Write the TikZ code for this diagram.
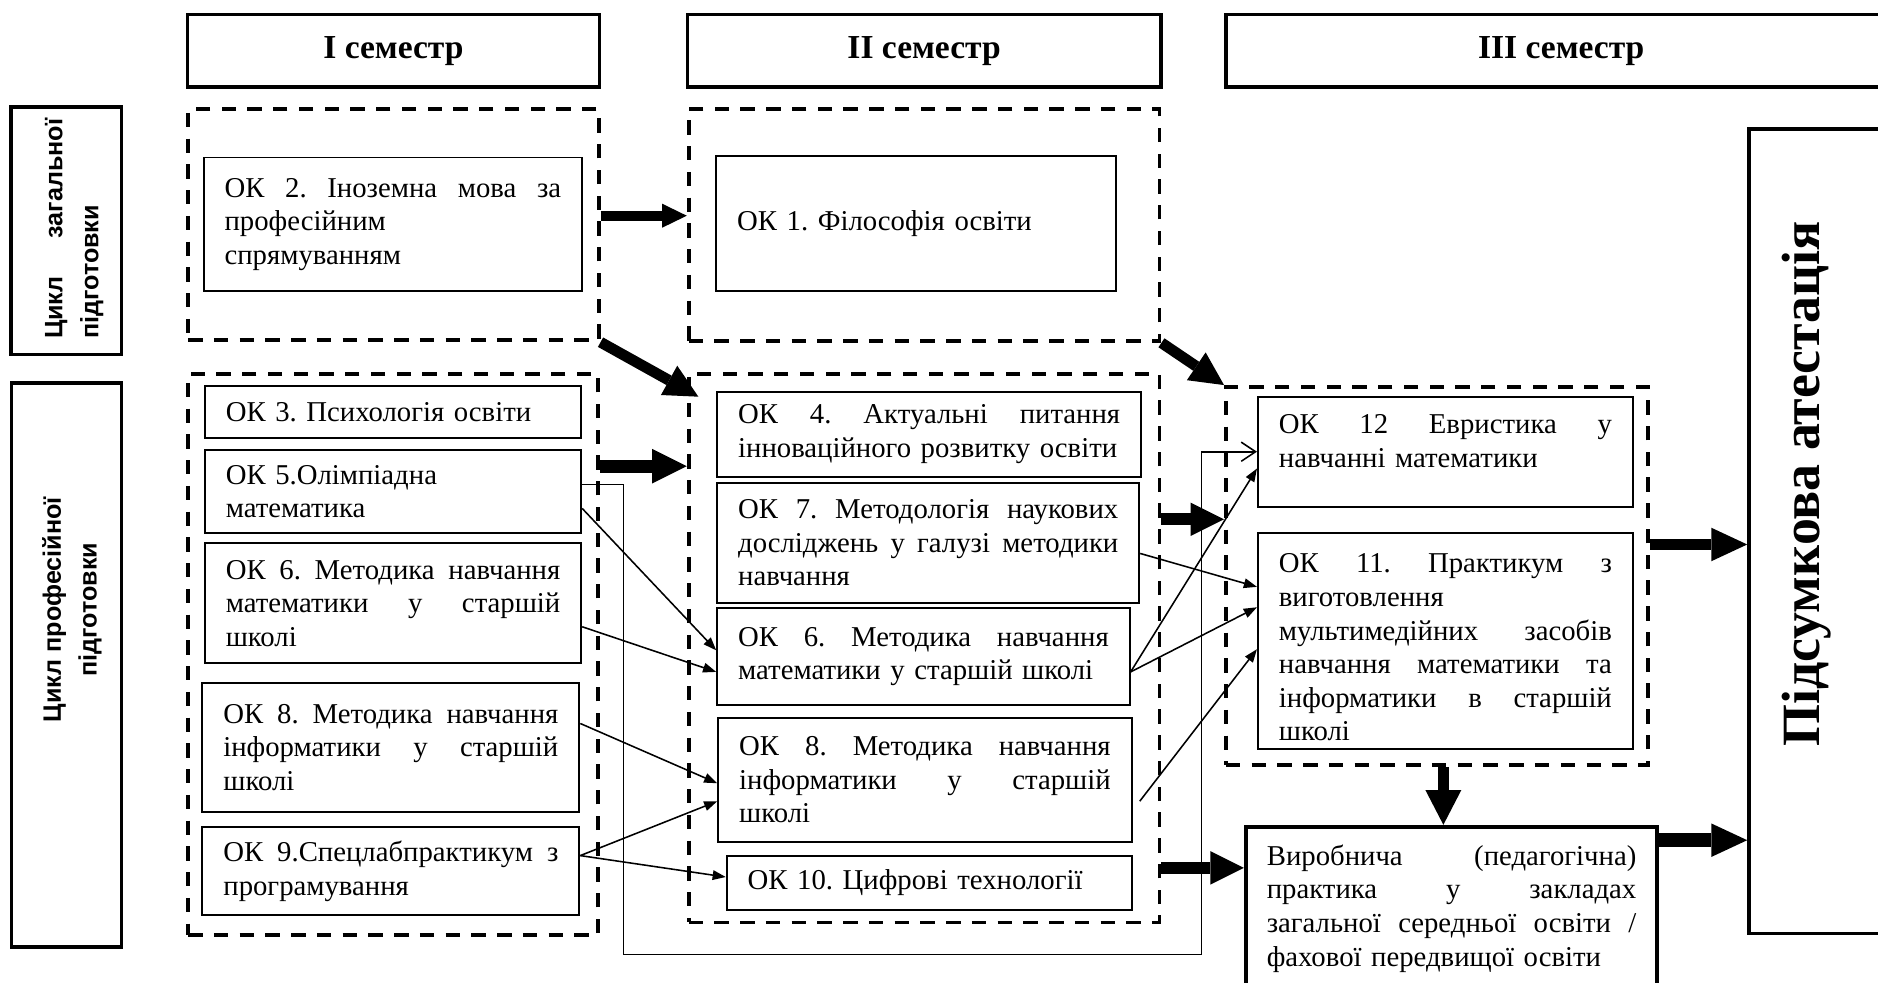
\documentclass[tikz,border=0pt]{standalone}
\usepackage{fontspec}
\setmainfont{Liberation Serif}
\newfontfamily\lsans{Liberation Sans}
\usetikzlibrary{arrows.meta}
\newcommand\jl[1]{\makebox[\linewidth][s]{\spaceskip=0pt\xspaceskip=0pt\relax #1}}
\begin{document}
\begin{tikzpicture}[x=1pt,y=-1pt,
  okbox/.style={draw, line width=1.6pt, inner xsep=17.5pt, inner ysep=0pt, align=left,
    font=\fontsize{24}{28}\selectfont\frenchspacing},
  headbox/.style={draw, line width=3pt, anchor=north west, font=\bfseries\fontsize{28}{30}\selectfont},
  dbox/.style={draw, line width=3.2pt, dash pattern=on 12pt off 9.5pt, anchor=north west, inner sep=0pt},
  framebox/.style={draw, line width=3pt, inner sep=0pt},
  sidetext/.style={rotate=90, inner sep=0pt, font=\lsans\bfseries\fontsize{21}{30}\selectfont},
  thinarr/.style={line width=1.3pt, -{Triangle[length=11pt,width=8pt]}},
  openarr/.style={line width=1.3pt, -{Straight Barb[length=12pt,width=16pt]}},
  bigarr/.style={line width=9pt, -{Triangle[length=28pt,width=28pt,line width=0pt]}},
]
\useasboundingbox (0,0) rectangle (1568,820);
\clip (0,0) rectangle (1568,820);

% semester headers
\node[headbox, minimum width=344pt, minimum height=60.4pt] (H1) at (155,10.6) {I семестр};
\node[headbox, minimum width=395.1pt, minimum height=60.4pt] (H2) at (572.5,10.6) {II семестр};
\node[headbox, minimum width=560pt, minimum height=60.4pt] (H3) at (1022,10.6) {III семестр};

% side labels
\node[framebox, minimum width=92.1pt, minimum height=206.5pt] (LG) at (55.35,192.75) {};
\node[sidetext, text width=184pt, align=left] (LGt) at (62,191) {\jl{Цикл загальної}\\підготовки};
\node[framebox, minimum width=91.9pt, minimum height=470.5pt] (LP) at (55.65,555.25) {};
\node[sidetext, align=center] (LPt) at (60,509) {Цикл професійної\\підготовки};

% final attestation
\node[framebox, minimum width=119.7pt, minimum height=671.6pt] (FIN) at (1520.15,443.5) {};
\node[rotate=90, inner sep=0pt, font=\bfseries\fontsize{45}{50}\selectfont] (FINt) at (1508,404) {Підсумкова атестація};

% dashed groups
\node[dbox, minimum width=342.7pt, minimum height=193pt] (dI1) at (155.5,89.5) {};
\node[dbox, minimum width=393.1pt, minimum height=193.5pt] (dII1) at (573.4,89.5) {};
\node[dbox, minimum width=342.5pt, minimum height=468.5pt] (dI2) at (155.5,310.5) {};
\node[dbox, minimum width=393.1pt, minimum height=458.1pt] (dII2) at (573.4,310.5) {};
\node[dbox, minimum width=352.5pt, minimum height=315.5pt] (dIII) at (1022,321.5) {};

% semester I
\node[okbox, text width=281pt, minimum height=111.5pt] (OK2) at (328,187.25)
  {\jl{ОК 2. Іноземна мова за}\\професійним\\спрямуванням};
\node[okbox, text width=279.3pt, minimum height=43.7pt] (OK3) at (328.15,344.15)
  {ОК 3. Психологія освіти};
\node[okbox, text width=279.3pt, minimum height=69.6pt] (OK5) at (328.15,410.5)
  {ОК 5.Олімпіадна\\математика};
\node[okbox, text width=279.3pt, minimum height=100.2pt] (OK6) at (328.15,503.8)
  {\jl{ОК 6. Методика навчання}\\\jl{математики у старшій}\\школі};
\node[okbox, text width=279.7pt, minimum height=107.1pt] (OK8) at (326.35,624.05)
  {\jl{ОК 8. Методика навчання}\\\jl{інформатики у старшій}\\школі};
\node[okbox, text width=279.7pt, minimum height=73.3pt] (OK9) at (326.35,727.35)
  {\jl{ОК 9.Спецлабпрактикум з}\\програмування};

% semester II
\node[okbox, text width=298.5pt, minimum height=113pt] (OK1) at (764.75,186.5)
  {ОК 1. Філософія освіти};
\node[okbox, text width=319pt, minimum height=71pt] (OK4) at (775.8,362.5)
  {\jl{ОК 4. Актуальні питання}\\інноваційного розвитку освіти};
\node[okbox, text width=317.4pt, minimum height=100.2pt] (OK7) at (775,453.1)
  {\jl{ОК 7. Методологія наукових}\\\jl{досліджень у галузі методики}\\навчання};
\node[okbox, text width=309.4pt, minimum height=81.2pt] (OK6b) at (771,548)
  {\jl{ОК 6. Методика навчання}\\математики у старшій школі};
\node[okbox, text width=310.1pt, minimum height=103.5pt] (OK8b) at (772.25,650.95)
  {\jl{ОК 8. Методика навчання}\\\jl{інформатики у старшій}\\школі};
\node[okbox, text width=303pt, minimum height=45.1pt] (OK10) at (775.8,737.25)
  {ОК 10. Цифрові технології};

% semester III
\node[okbox, text width=278pt, minimum height=91.9pt] (OK12) at (1206.8,377.15)
  {\jl{ОК 12 Евристика у}\\навчанні математики\rule[-18pt]{0pt}{18pt}};
\node[okbox, text width=278pt, minimum height=180.4pt] (OK11) at (1206.8,535.5)
  {\jl{\rule{0pt}{26pt}ОК 11. Практикум з}\\виготовлення\\\jl{мультимедійних засобів}\\\jl{навчання математики та}\\\jl{інформатики в старшій}\\школі};
\node[okbox, line width=3.3pt, text width=308.5pt, minimum height=136.4pt] (PR) at (1211.95,758.5)
  {\jl{Виробнича (педагогічна)}\\\jl{практика у закладах}\\\jl{загальної середньої освіти /}\\фахової передвищої освіти};

% thin arrows
\draw[thinarr] ([yshift=-14pt]OK5.east) -- ([yshift=5pt]OK6b.west);
\draw[thinarr] ([yshift=-19.5pt]OK6.east) -- ([yshift=-13pt]OK6b.west);
\draw[thinarr] ([yshift=20pt]OK8.east) -- ([yshift=-3pt]OK8b.west);
\draw[thinarr] ([yshift=13pt]OK9.east) -- ([yshift=-18pt]OK8b.west);
\draw[thinarr] ([yshift=13pt]OK9.east) -- ([yshift=5pt]OK10.west);
\draw[thinarr] ([yshift=-13pt]OK6b.east) -- ([yshift=-14pt]OK12.west);
\draw[thinarr] ([yshift=-13pt]OK6b.east) -- ([yshift=28.5pt]OK11.west);
\draw[thinarr] ([yshift=-9pt]OK7.east) -- ([yshift=45.5pt]OK11.west);
\draw[thinarr] ([xshift=6pt,yshift=-18pt]OK8b.east) -- ([yshift=-6.5pt]OK11.west);

\coordinate (b1) at (520.4,797);
\coordinate (b2) at (1003,797);
\draw[openarr] ([yshift=6pt]OK5.east) -| (b1) -- (b2) |- (OK12.west);

% thick arrows
\coordinate (t1) at ([yshift=7.5pt]dI1.east);
\draw[bigarr, line width=8pt, -{Triangle[length=20.5pt,width=20pt,line width=0pt]}] (t1) -- (t1 -| dII1.west);
\draw[bigarr] (dI1.south east) -- ([xshift=9.7pt,yshift=-20.7pt]dII2.north west);
\draw[bigarr] (dII1.south east) -- (dIII.north west);
\coordinate (t4) at ([yshift=157.15pt]dI2.east);
\draw[bigarr, line width=11pt, -{Triangle[length=29pt,width=29pt,line width=0pt]}] (t4) -- (t4 -| dII2.west);
\coordinate (t5) at ([yshift=107.55pt]dII2.east);
\draw[bigarr, line width=10pt] (t5) -- (t5 -| dIII.west);
\coordinate (t6) at ([yshift=-183.45pt]dII2.east);
\draw[bigarr, line width=10pt] (t6) -- (t6 -| PR.west);
\coordinate (t7) at ([xshift=5.25pt]dIII.south);
\draw[bigarr, -{Triangle[length=29pt,width=30pt,line width=0pt]}] (t7) -- (t7 |- PR.north);
\coordinate (t8) at ([yshift=26.25pt]dIII.east);
\draw[bigarr, line width=10pt, -{Triangle[length=30pt,width=28pt,line width=0pt]}] (t8) -- (t8 -| FIN.west);
\coordinate (t9) at ([yshift=57pt]PR.east);
\draw[bigarr, line width=12pt, -{Triangle[length=30pt,width=28pt,line width=0pt]}] (t9) -- (t9 -| FIN.west);
\end{tikzpicture}
\end{document}
